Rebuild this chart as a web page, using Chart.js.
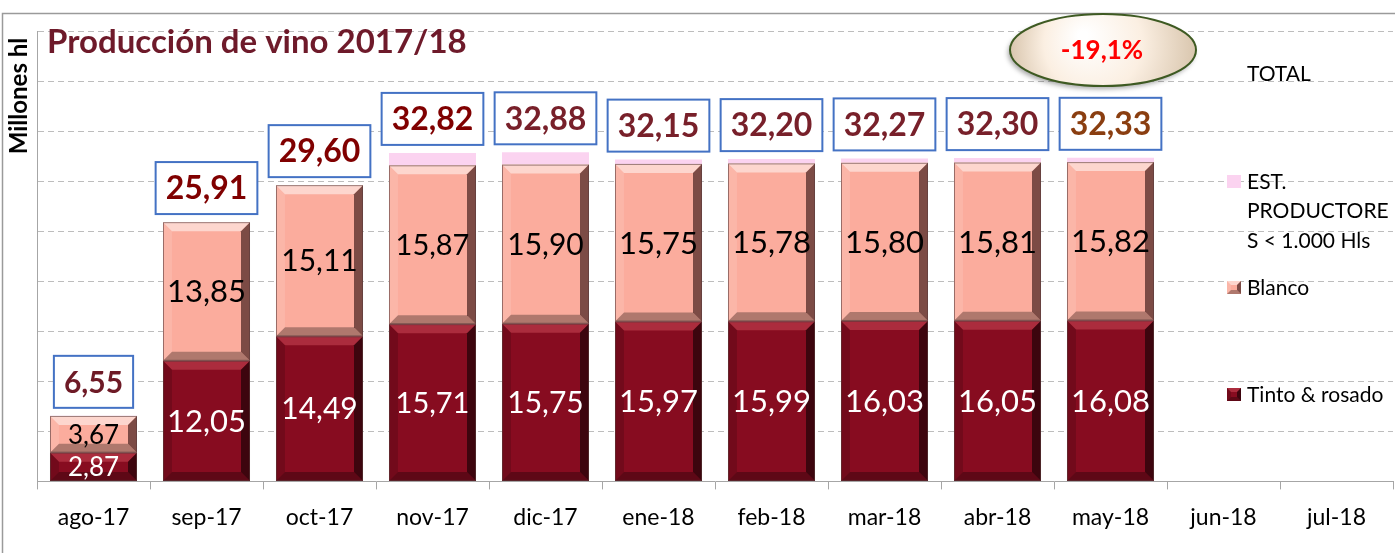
<!DOCTYPE html>
<html>
<head>
<meta charset="utf-8">
<script src="https://cdn.jsdelivr.net/npm/chart.js@4"></script>
<style>
  html, body { margin: 0; padding: 0; background: #fff; }
  #wrap { width: 1395px; height: 553px; }
</style>
</head>
<body>
<div id="wrap"><canvas id="vino" width="1395" height="553"></canvas></div>
<script>
// datos (millones hl)
const categories = ['ago-17', 'sep-17', 'oct-17', 'nov-17', 'dic-17', 'ene-18', 'feb-18', 'mar-18', 'abr-18', 'may-18', 'jun-18', 'jul-18'];
const tinto = [2.87, 12.05, 14.49, 15.71, 15.75, 15.97, 15.99, 16.03, 16.05, 16.08];
const blanco = [3.67, 13.85, 15.11, 15.87, 15.90, 15.75, 15.78, 15.80, 15.81, 15.82];
const pequenos = [0.01, 0.01, 0, 1.24, 1.23, 0.43, 0.43, 0.44, 0.44, 0.43];
const totales = [6.55, 25.91, 29.60, 32.82, 32.88, 32.15, 32.20, 32.27, 32.30, 32.33];
const yMin = 0, yMax = 45, yStep = 5;
const variacion = '-19,1%';

const FONT = 'Lato, "Open Sans", sans-serif';
const TINTO = '#870C20';
const BLANCO = '#FBAC9D';
const ROSA = '#FBD3F0';

// colores de las etiquetas de total
const totalColors = ['#6E1A26', '#800000', '#800000', '#800000', '#78202A', '#78202A', '#78202A', '#78202A', '#78202A', '#8A3E10'];
const totalSizes = [30, 32, 32, 32, 32, 32, 32, 32, 32, 32];
const innerSizes = [26, 31, 30, 29, 30, 31, 31, 31, 31, 31];

function fmt(v) {
    return v.toFixed(2).replace('.', ',');
}

function poly(ctx, pts, fill) {
    ctx.beginPath();
    ctx.moveTo(pts[0][0], pts[0][1]);
    for (let i = 1; i < pts.length; i++) ctx.lineTo(pts[i][0], pts[i][1]);
    ctx.closePath();
    ctx.fillStyle = fill;
    ctx.fill();
}

// bisel estilo Excel
function bevel(ctx, l, t, r, b, s, dark) {
    poly(ctx, [[l, t], [r, t], [r - s, t + s], [l + s, t + s]], dark ? 'rgba(255,120,130,0.30)' : 'rgba(255,255,255,0.5)');
    poly(ctx, [[l, t], [l + s, t + s], [l + s, b - s], [l, b]], dark ? 'rgba(0,0,0,0.15)' : 'rgba(255,255,255,0.12)');
    poly(ctx, [[r, t], [r - s, t + s], [r - s, b - s], [r, b]], dark ? 'rgba(0,0,0,0.55)' : 'rgba(40,10,10,0.6)');
    poly(ctx, [[l, b], [r, b], [r - s, b - s], [l + s, b - s]], 'rgba(0,0,0,0.30)');
}

const decor = {
    id: 'decor',
    beforeDraw(chart) {
        const ctx = chart.ctx;
        ctx.save();
        ctx.strokeStyle = '#9A9A9A';
        ctx.lineWidth = 1.5;
        ctx.strokeRect(2.5, 13.5, 1500, 700);
        ctx.restore();
    },
    afterDatasetsDraw(chart) {
        const ctx = chart.ctx;
        const y = chart.scales.y;
        ctx.save();

        // biseles
        [0, 1].forEach(di => {
            chart.getDatasetMeta(di).data.forEach(bar => {
                const l = bar.x - bar.width / 2, r = bar.x + bar.width / 2;
                const t = Math.min(bar.y, bar.base), b = Math.max(bar.y, bar.base);
                const h = b - t;
                if (h < 2) return;
                const s = Math.min(9, h / 3);
                bevel(ctx, l, t, r, b, s, di === 0);
                ctx.strokeStyle = 'rgba(90,60,60,0.6)';
                ctx.lineWidth = 1;
                ctx.strokeRect(l + 0.5, t + 0.5, r - l - 1, h - 1);
            });
        });

        // valores dentro de las barras
        ctx.textAlign = 'center';
        ctx.textBaseline = 'middle';
        [[0, '#FFFFFF'], [1, '#000000']].forEach(([di, col]) => {
            chart.getDatasetMeta(di).data.forEach((bar, i) => {
                const v = chart.data.datasets[di].data[i];
                if (v == null) return;
                ctx.font = innerSizes[i] + 'px ' + FONT;
                ctx.fillStyle = col;
                ctx.fillText(fmt(v), bar.x, (bar.y + bar.base) / 2 + 1);
            });
        });

        // totales en recuadro
        const meta = chart.getDatasetMeta(0);
        totales.forEach((v, i) => {
            const cx = meta.data[i].x;
            const top = y.getPixelForValue(v);
            ctx.font = 'bold ' + totalSizes[i] + 'px ' + FONT;
            const w = ctx.measureText(fmt(v)).width + 20;
            const h = 52;
            const bb = top - 8;
            ctx.fillStyle = '#FFFFFF';
            ctx.fillRect(cx - w / 2, bb - h, w, h);
            ctx.strokeStyle = '#4472C4';
            ctx.lineWidth = 2;
            ctx.strokeRect(cx - w / 2, bb - h, w, h);
            ctx.fillStyle = totalColors[i];
            ctx.fillText(fmt(v), cx, bb - h / 2 + 1);
        });
        ctx.restore();
    },
    afterDraw(chart) {
        const ctx = chart.ctx;
        ctx.save();

        // titulo
        ctx.fillStyle = '#6E1A2A';
        ctx.font = 'bold 33px ' + FONT;
        ctx.textAlign = 'left';
        ctx.textBaseline = 'middle';
        ctx.fillText('Producción de vino 2017/18', 47, 42);

        // titulo eje y
        ctx.save();
        ctx.translate(19, 96);
        ctx.rotate(-Math.PI / 2);
        ctx.fillStyle = '#000';
        ctx.font = 'bold 24px ' + FONT;
        ctx.textAlign = 'center';
        ctx.fillText('Millones hl', 0, 0);
        ctx.restore();

        // elipse con la variación
        const ex = 1103, ey = 50, rx = 93, ry = 36;
        ctx.save();
        ctx.shadowColor = 'rgba(0,0,0,0.35)';
        ctx.shadowBlur = 5;
        ctx.shadowOffsetX = -2;
        ctx.shadowOffsetY = 3;
        const g = ctx.createRadialGradient(ex - 20, ey - 14, 5, ex, ey, rx);
        g.addColorStop(0, '#FFFFFF');
        g.addColorStop(0.5, '#FBEFE2');
        g.addColorStop(1, '#D9C6AE');
        ctx.beginPath();
        ctx.ellipse(ex, ey, rx, ry, 0, 0, Math.PI * 2);
        ctx.fillStyle = g;
        ctx.fill();
        ctx.restore();
        ctx.beginPath();
        ctx.ellipse(ex, ey, rx, ry, 0, 0, Math.PI * 2);
        ctx.strokeStyle = '#3E5A22';
        ctx.lineWidth = 2;
        ctx.stroke();
        ctx.fillStyle = '#FF0000';
        ctx.font = 'bold 26px ' + FONT;
        ctx.textAlign = 'center';
        ctx.fillText(variacion, ex - 1, ey + 1);

        // leyenda
        ctx.textAlign = 'left';
        ctx.fillStyle = '#000';
        ctx.font = '21px ' + FONT;
        const tx = 1247;
        ctx.fillText('TOTAL', tx, 74);
        ['EST.', 'PRODUCTORE', 'S < 1.000 Hls'].forEach((s, k) => ctx.fillText(s, tx, 182 + k * 29.5));
        ctx.fillText('Blanco', tx, 288);
        ctx.fillText('Tinto & rosado', tx, 395);
        ctx.fillStyle = ROSA;
        ctx.fillRect(1227, 175, 14, 13);
        [[BLANCO, 281, false], [TINTO, 388, true]].forEach(([c, yy, dk]) => {
            ctx.fillStyle = c;
            ctx.fillRect(1227, yy, 14, 13);
            bevel(ctx, 1227, yy, 1241, yy + 13, 4, dk);
        });
        ctx.restore();
    }
};

new Chart(document.getElementById('vino'), {
    type: 'bar',
    data: {
        labels: categories,
        datasets: [
            { label: 'Tinto & rosado', data: tinto, backgroundColor: TINTO },
            { label: 'Blanco', data: blanco, backgroundColor: BLANCO },
            { label: 'EST. PRODUCTORES < 1.000 Hls', data: pequenos, backgroundColor: ROSA }
        ]
    },
    options: {
        responsive: false,
        animation: false,
        devicePixelRatio: 1,
        layout: { padding: { left: 37, top: 31, right: 2, bottom: 8 } },
        datasets: { bar: { barPercentage: 0.77, categoryPercentage: 1 } },
        plugins: { legend: { display: false }, tooltip: { enabled: false } },
        scales: {
            x: {
                stacked: true,
                grid: { offset: true, drawOnChartArea: false, drawTicks: true, tickLength: 8, color: '#A6A6A6' },
                border: { color: '#A6A6A6' },
                ticks: { color: '#000', font: { family: FONT, size: 23 }, padding: 14, maxRotation: 0 }
            },
            y: {
                stacked: true,
                min: yMin,
                max: yMax,
                ticks: { display: false, stepSize: yStep },
                grid: { color: '#BDBDBD', drawTicks: false },
                border: { color: '#A6A6A6', dash: [6, 4] }
            }
        }
    },
    plugins: [decor]
});
</script>
</body>
</html>
